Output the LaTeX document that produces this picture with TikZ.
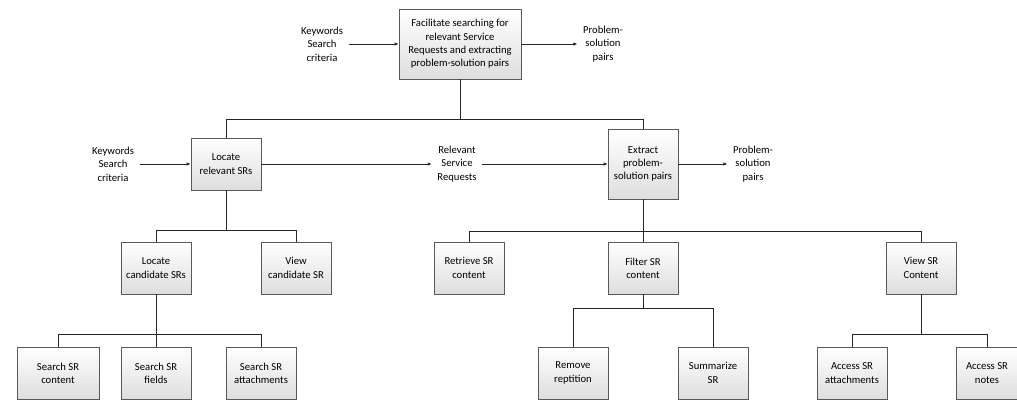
\documentclass[tikz,border=0pt]{standalone}
\usepackage{fontspec}
\setmainfont{Carlito}
\usetikzlibrary{arrows.meta,shadows}
\begin{document}
\begin{tikzpicture}[x=0.75pt,y=-0.75pt,
		font=\fontsize{8}{10}\selectfont,
		task/.style={draw=black!65,rectangle,top color=white,bottom color=black!13,
			drop shadow={shadow xshift=1pt,shadow yshift=-1pt,fill=black!25,opacity=0.6},
			align=center,inner sep=1pt,minimum width=52.5pt,minimum height=39pt},
		tall/.style={task,minimum height=52.5pt},
		note/.style={align=center,inner sep=4pt},
		link/.style={draw=black!85,line width=0.7pt},
		flow/.style={link,-{Latex[length=3pt,width=2.5pt]}}]
		\useasboundingbox (0,0) rectangle (1017,401);

		\node[tall,minimum width=91.5pt] (top) at (460,44) {Facilitate searching for\\relevant Service\\Requests and extracting\\problem-solution pairs};
		\node[note] (kwA) at (322,44) {Keywords\\Search\\criteria};
		\node[note] (psA) at (603,44) {Problem-\\solution\\pairs};

		\node[task] (locR) at (226,164) {Locate\\relevant SRs};
		\node[note] (kwB) at (113,164) {Keywords\\Search\\criteria};
		\node[note] (relSR) at (457,164) {Relevant\\Service\\Requests};
		\node[tall] (extr) at (643,164) {Extract\\problem-\\solution pairs};
		\node[note] (psB) at (753,164) {Problem-\\solution\\pairs};

		\node[task] (locC) at (156,268) {Locate\\candidate SRs};
		\node[task] (viewC) at (296,268) {View\\candidate SR};
		\node[task] (retr) at (469,268) {Retrieve SR\\content};
		\node[task] (filt) at (643,268) {Filter SR\\content};
		\node[task] (viewSR) at (921,268) {View SR\\Content};

		\node[task,minimum width=61.5pt] (sContent) at (58,373) {Search SR\\content};
		\node[task] (sFields) at (156,373) {Search SR\\fields};
		\node[task] (sAttach) at (261,373) {Search SR\\attachments};
		\node[task] (remRep) at (573,373) {Remove\\reptition};
		\node[task] (summ) at (713,373) {Summarize\\SR};
		\node[task] (accAtt) at (852,373) {Access SR\\attachments};
		\node[task,minimum width=46.5pt] (accNotes) at (987,373) {Access SR\\notes};

		\draw[flow] (kwA.east) -- (top.west);
		\draw[flow] (top.east) -- (psA.west);
		\draw[flow] (kwB.east) -- (locR.west);
		\draw[flow] (locR.east) -- (relSR.west);
		\draw[flow] (relSR.east) -- (extr.west);
		\draw[flow] (extr.east) -- (psB.west);

		\path (top.south) ++(0,40) coordinate (j0);
		\path (locR.south) ++(0,40) coordinate (j1);
		\path (locC.south) ++(0,40) coordinate (j2);
		\path (extr.south) ++(0,32) coordinate (j3);
		\path (filt.south) ++(0,14) coordinate (j4);
		\path (viewSR.south) ++(0,40) coordinate (j5);

		\draw[link] (top.south) -- (j0);
		\draw[link] (locR.north) |- (j0) -| (extr.north);
		\draw[link] (locR.south) -- (j1);
		\draw[link] (locC.north) |- (j1) -| (viewC.north);
		\draw[link] (locC.south) -- (sFields.north);
		\draw[link] (sContent.north) |- (j2) -| (sAttach.north);
		\draw[link] (extr.south) -- (filt.north);
		\draw[link] (retr.north) |- (j3) -| (viewSR.north);
		\draw[link] (filt.south) -- (j4);
		\draw[link] (remRep.north) |- (j4) -| (summ.north);
		\draw[link] (viewSR.south) -- (j5);
		\draw[link] (accAtt.north) |- (j5) -| (accNotes.north);
	\end{tikzpicture}
\end{document}
